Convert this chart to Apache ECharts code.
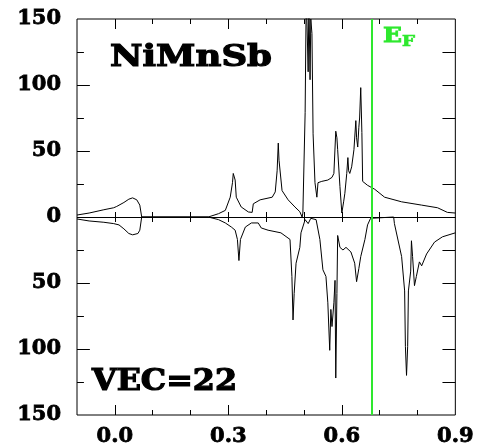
<!DOCTYPE html>
<html>
<head>
<meta charset="utf-8">
<script src="https://cdn.jsdelivr.net/npm/echarts@6/dist/echarts.min.js"></script>
<style>html,body{margin:0;padding:0;background:#fff;}#c{width:477px;height:448px;}</style>
</head>
<body>
<div id="c"></div>
<script>
// ---- data (energy, DOS: spin up positive, spin down negative) ----
var upE = [-0.1,-0.068,-0.029,-0.003,0.005,0.024,0.037,0.047,0.058,0.066,0.071,
  0.247,0.274,0.292,0.305,0.311,0.313,0.318,0.321,0.334,0.353,0.363,0.366,0.384,
  0.416,0.424,0.429,0.432,0.434,0.442,0.458,0.476,0.489,0.495,0.497,0.503,0.506,
  0.511,0.513,0.516,0.518,0.521,0.524,0.529,0.534,0.537,0.547,0.563,0.574,0.579,
  0.584,0.587,0.589,0.595,0.600,0.605,0.608,0.613,0.616,0.618,0.621,0.626,0.632,
  0.637,0.639,0.642,0.645,0.647,0.650,0.653,0.655,0.668,0.687,0.713,0.758,0.811,
  0.853,0.879,0.9];
var upV = [1.5,3,5.5,7,8,11,13.5,14.5,13,9,0,
  0,2.5,5,15,26,33,28,15,7.6,3.8,3.5,10,13,
  15,19,35,56,43,20,13,7.6,4,0,3,79,170,
  110,165,104,150,139,63,26,15,26,27,28,30,33,
  65,60,51,23,3,12,18,33,45,35,33,38,51,
  73,60,53,68,75,98,64,27,24,21,15,11.5,9,
  7,3.5,3];
var dnE = [-0.1,-0.068,-0.029,-0.003,0.011,0.024,0.037,0.047,0.061,0.066,0.071,
  0.247,0.274,0.292,0.308,0.318,0.324,0.328,0.332,0.345,0.361,0.379,0.387,0.405,
  0.439,0.463,0.468,0.471,0.474,0.479,0.489,0.492,0.503,0.511,0.518,0.532,0.542,
  0.550,0.558,0.563,0.568,0.571,0.574,0.579,0.582,0.584,0.587,0.589,0.595,0.603,
  0.611,0.624,0.634,0.639,0.645,0.650,0.661,0.668,0.676,0.679,0.737,0.739,0.758,
  0.766,0.768,0.771,0.774,0.776,0.782,0.784,0.787,0.792,0.797,0.805,0.811,0.824,
  0.845,0.866,0.9];
var dnV = [-1.5,-3,-4,-5,-6,-9,-12.5,-13.5,-12.5,-10,0,
  0,-2,-4.5,-7.6,-10,-17,-33,-17,-7.6,-4.5,-4.5,-8.3,-10,
  -12,-17,-45,-78,-58,-35,-23,-12,-2,-5,-1,-2,-17,
  -40,-45,-65,-101,-70,-83,-65,-48,-122,-58,-14,-23,-25,
  -23,-26.5,-35,-49,-39,-30,-17,-6,-1,0,0,-5,-30,
  -56,-98,-120,-98,-56,-41,-18,-30,-52,-45,-34,-37,-28,
  -19,-15,-12];
var fermi = 0.684;
var xLabelValues = [0, 0.3, 0.6, 0.9];
var xTickValues = [0, 0.1, 0.2, 0.3, 0.4, 0.5, 0.6, 0.7, 0.8];
var xMajorTicks = [0, 0.3, 0.6, 0.9];
var yTickValues = [-125, -100, -75, -50, -25, 0, 25, 50, 75, 100, 125];
var yMajorTicks = [-100, -50, 0, 50, 100];
var X_MIN = -0.1, X_MAX = 0.9, Y_MIN = -150, Y_MAX = 150;
var compound = 'NiMnSb';
var vecText = 'VEC=22';

function pairs(a, b) { return a.map(function (v, i) { return [v, b[i]]; }); }
function isMajor(list, v) { return list.some(function (m) { return Math.abs(m - v) < 1e-9; }); }

var FONT = '"DejaVu Serif", serif';
var BLACK = '#000';
var GREEN = '#2ee82e';

// plot-area size in px (layout), used to turn tick lengths in px into axis units
var GRID = { left: 77, top: 19, width: 382, height: 396 };
var pxX = (X_MAX - X_MIN) / GRID.width;
var pxY = (Y_MAX - Y_MIN) / GRID.height;

function fitScale(text, size, target) {
  var c = document.createElement('canvas').getContext('2d');
  c.font = 'bold ' + size + 'px ' + FONT;
  return target / c.measureText(text).width;
}

// tick segments placed through the axes' own scales (markLine coords in data units)
var tickSegs = [];
xTickValues.forEach(function (v) {
  var ly = (isMajor(xMajorTicks, v) ? 10 : 5) * pxY;
  tickSegs.push([{ coord: [v, Y_MIN] }, { coord: [v, Y_MIN + ly] }]);
  tickSegs.push([{ coord: [v, Y_MAX] }, { coord: [v, Y_MAX - ly] }]);
  tickSegs.push([{ coord: [v, -5 * pxY] }, { coord: [v, 5 * pxY] }]);
});
yTickValues.forEach(function (v) {
  var lx = (isMajor(yMajorTicks, v) ? 13 : 7) * pxX;
  tickSegs.push([{ coord: [X_MIN, v] }, { coord: [X_MIN + lx, v] }]);
  tickSegs.push([{ coord: [X_MAX, v] }, { coord: [X_MAX - 13 * pxX, v] }]);
});

var chart = echarts.init(document.getElementById('c'));

var option = {
  animation: false,
  grid: { left: GRID.left, top: GRID.top, width: GRID.width, height: GRID.height,
    show: true, borderColor: BLACK, borderWidth: 1, backgroundColor: 'transparent' },
  xAxis: [{
    type: 'value', min: X_MIN, max: X_MAX, position: 'bottom',
    splitLine: { show: false }, axisLine: { show: false, onZero: false }, axisTick: { show: false },
    axisLabel: { show: true, customValues: xLabelValues, formatter: function (v) { return (+v).toFixed(1); },
      fontFamily: FONT, fontWeight: 'bold', fontSize: 21, color: BLACK, margin: 11,
      textBorderColor: BLACK, textBorderWidth: 0.8 }
  }],
  yAxis: [{
    type: 'value', min: Y_MIN, max: Y_MAX, interval: 50, position: 'left',
    axisLine: { show: false, onZero: false }, axisTick: { show: false },
    splitLine: { show: false },
    axisLabel: { show: true, formatter: function (v) { return Math.abs(v); }, fontFamily: FONT, fontWeight: 'bold',
      fontSize: 21, color: BLACK, margin: 16, textBorderColor: BLACK, textBorderWidth: 0.8 }
  }],
  series: [
    { type: 'line', name: 'up', data: pairs(upE, upV), showSymbol: false, symbol: 'none',
      lineStyle: { color: BLACK, width: 1 }, clip: true, z: 3,
      markLine: { silent: true, symbol: ['none', 'none'], label: { show: false }, emphasis: { disabled: true },
        lineStyle: { color: BLACK, width: 1, type: 'solid' },
        data: [{ yAxis: 0 }].concat(tickSegs) } },
    { type: 'line', name: 'down', data: pairs(dnE, dnV), showSymbol: false, symbol: 'none',
      lineStyle: { color: BLACK, width: 1 }, clip: true, z: 3,
      markLine: { silent: true, symbol: ['none', 'none'], label: { show: false }, emphasis: { disabled: true },
        lineStyle: { color: GREEN, width: 2, type: 'solid' }, data: [{ xAxis: fermi }] } }
  ],
  graphic: [
    { type: 'text', x: 110, y: 58, scaleX: fitScale(compound, 30, 162), z: 10,
      style: { text: compound, font: 'bold 30px ' + FONT, fill: BLACK, stroke: BLACK, lineWidth: 1.2,
        textAlign: 'left', align: 'left', textVerticalAlign: 'middle', verticalAlign: 'middle' } },
    { type: 'text', x: 92, y: 382, scaleX: fitScale(vecText, 29, 145), z: 10,
      style: { text: vecText, font: 'bold 29px ' + FONT, fill: BLACK, stroke: BLACK, lineWidth: 1.2,
        textAlign: 'left', align: 'left', textVerticalAlign: 'middle', verticalAlign: 'middle' } },
    { type: 'text', x: 383, y: 37, scaleX: fitScale('E', 20, 19), z: 10,
      style: { text: 'E', font: 'bold 20px ' + FONT, fill: GREEN, stroke: GREEN, lineWidth: 0.8,
        textAlign: 'left', align: 'left', textVerticalAlign: 'middle', verticalAlign: 'middle' } },
    { type: 'text', x: 402, y: 42, scaleX: fitScale('F', 14, 13), z: 10,
      style: { text: 'F', font: 'bold 14px ' + FONT, fill: GREEN, stroke: GREEN, lineWidth: 0.6,
        textAlign: 'left', align: 'left', textVerticalAlign: 'middle', verticalAlign: 'middle' } }
  ]
};
chart.setOption(option);
</script>
</body>
</html>
